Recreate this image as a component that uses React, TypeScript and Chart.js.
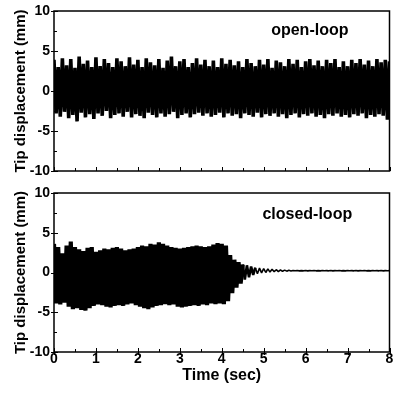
import React, { useEffect, useRef } from 'react';
import { Chart, registerables } from 'chart.js';

Chart.register(...registerables);

// ---- Data ----
const T_START = 0;
const T_END = 8; // seconds, samples evenly spaced over this span
const timeTicks = [0, 1, 2, 3, 4, 5, 6, 7, 8];
const dispTicks = [-10, -5, 0, 5, 10];

// open-loop tip displacement (mm), successive peaks / troughs
const openLoop = [
  3.9, -2.8, 3.0, -3.2, 4.1, -2.6, 3.2, -3.4, 4.0, -3.0,
  2.9, -3.8, 4.3, -2.7, 3.4, -3.3, 3.8, -2.9, 3.0, -3.5,
  4.2, -2.8, 3.1, -3.1, 4.0, -2.5, 3.5, -3.4, 3.0, -3.0,
  4.1, -2.8, 3.7, -3.2, 3.1, -2.6, 4.2, -3.3, 3.3, -2.9,
  3.9, -3.1, 3.0, -3.4, 4.1, -2.7, 3.6, -3.0, 3.2, -3.3,
  4.0, -2.8, 2.9, -3.2, 3.8, -2.9, 4.3, -2.6, 3.1, -3.4,
  3.7, -3.0, 4.0, -2.8, 3.0, -3.3, 3.5, -2.9, 4.1, -2.7,
  3.3, -3.1, 3.9, -2.8, 3.1, -3.2, 3.8, -3.0, 3.0, -2.7,
  4.1, -3.3, 3.4, -2.8, 3.9, -3.1, 3.2, -2.9, 3.7, -3.4,
  3.0, -2.8, 4.0, -3.0, 3.5, -3.2, 3.1, -2.7, 3.9, -3.3,
  3.3, -2.9, 4.0, -3.1, 2.9, -2.8, 3.8, -3.2, 3.6, -2.9,
  3.1, -3.4, 4.0, -3.0, 3.4, -2.8, 3.9, -3.3, 3.0, -2.9,
  3.7, -3.1, 4.0, -2.8, 3.2, -3.2, 3.8, -3.0, 3.1, -3.4,
  3.9, -2.9, 3.5, -3.1, 4.0, -2.8, 3.0, -3.2, 3.7, -3.0,
  3.1, -3.3, 3.9, -2.9, 3.5, -3.1, 4.0, -2.8, 3.3, -3.4,
  3.8, -3.0, 3.1, -3.2, 4.0, -2.9, 3.6, -3.1, 3.9, -3.6,
  3.7,
];

// closed-loop tip displacement (mm): control switched on near 4.1 s
const closedLoop = [
  3.6, -3.9, 3.2, -4.0, 2.4, -3.8, 3.4, -4.3, 3.9, -4.6,
  3.2, -4.5, 2.9, -4.7, 2.7, -4.8, 3.1, -4.5, 3.2, -4.2,
  2.6, -4.0, 2.8, -4.1, 3.0, -4.3, 2.9, -4.4, 3.1, -4.2,
  3.2, -4.1, 3.0, -4.2, 2.8, -4.0, 2.9, -3.9, 3.0, -4.1,
  3.2, -4.3, 3.4, -4.5, 3.3, -4.6, 3.6, -4.4, 3.5, -4.2,
  3.8, -4.1, 3.6, -4.0, 3.4, -4.1, 3.2, -4.0, 3.1, -4.3,
  3.0, -4.4, 3.1, -4.3, 3.2, -4.2, 3.3, -4.1, 3.4, -4.2,
  3.3, -4.0, 3.2, -4.1, 3.3, -3.9, 3.5, -4.0, 3.7, -3.9,
  3.6, -4.0,
  3.4, -3.6, 2.2, -2.6, 1.6, -1.9, 1.3, -1.4, 1.0, -0.9,
  0.9, -0.6, 0.75, -0.3, 0.6, -0.15, 0.55, -0.05, 0.5, 0.0,
  0.45, 0.05, 0.4, 0.1, 0.35, 0.12, 0.32, 0.15, 0.3, 0.17,
  0.28,
  0.2, 0.26, 0.21, 0.25, 0.2, 0.24, 0.21, 0.25,
  0.2, 0.24, 0.22, 0.25, 0.21, 0.24, 0.2, 0.25,
  0.22, 0.24, 0.21, 0.25, 0.2, 0.24, 0.22, 0.25,
  0.21, 0.24, 0.2, 0.25, 0.22, 0.24, 0.21, 0.25,
  0.2, 0.24, 0.22, 0.25, 0.21, 0.24, 0.2, 0.25,
  0.22, 0.24, 0.21, 0.25, 0.2, 0.24, 0.22, 0.23,
];

const FONT = '"Liberation Sans", Arial, Helvetica, sans-serif';

const framePlugin = {
  id: 'frameTicks',
  afterDatasetsDraw(chart: any, _args: any, opts: any) {
    const { ctx, chartArea: a, scales } = chart;
    const xs = scales.x;
    const ys = scales.y;
    ctx.save();
    ctx.strokeStyle = '#000';
    ctx.lineWidth = 1.5;
    ctx.strokeRect(a.left, a.top, a.right - a.left, a.bottom - a.top);
    ctx.lineWidth = 1;
    ctx.beginPath();
    // y ticks (major crossing, minor inward)
    for (let i = 0; i < dispTicks.length; i++) {
      const py = Math.round(ys.getPixelForValue(dispTicks[i])) + 0.5;
      ctx.moveTo(a.left - 3, py);
      ctx.lineTo(a.left + 4, py);
      if (i < dispTicks.length - 1) {
        const pm = Math.round(ys.getPixelForValue((dispTicks[i] + dispTicks[i + 1]) / 2)) + 0.5;
        ctx.moveTo(a.left, pm);
        ctx.lineTo(a.left + 3, pm);
      }
    }
    // x ticks
    for (let i = 0; i < timeTicks.length; i++) {
      const px = Math.round(xs.getPixelForValue(timeTicks[i])) + 0.5;
      ctx.moveTo(px, a.bottom + (opts.showX ? 3 : 0));
      ctx.lineTo(px, a.bottom - 4);
      if (i < timeTicks.length - 1) {
        const pm = Math.round(xs.getPixelForValue((timeTicks[i] + timeTicks[i + 1]) / 2)) + 0.5;
        ctx.moveTo(pm, a.bottom);
        ctx.lineTo(pm, a.bottom - 3);
      }
    }
    ctx.stroke();
    // panel note
    ctx.fillStyle = '#000';
    ctx.font = `bold 16px ${FONT}`;
    ctx.textAlign = 'center';
    ctx.textBaseline = 'alphabetic';
    ctx.fillText(opts.text, xs.getPixelForValue(opts.tx), ys.getPixelForValue(opts.ty));
    ctx.restore();
  },
};

type PanelProps = {
  values: number[];
  note: string;
  noteT: number;
  noteY: number;
  showX: boolean;
  lineWidth: number;
  thinAfter: number; // time after which the trace is drawn thin (small motion)
  width: number;
  height: number;
  padTop: number;
  padBottom: number;
};

function Panel(p: PanelProps) {
  const ref = useRef<HTMLCanvasElement | null>(null);
  useEffect(() => {
    if (!ref.current) return;
    const n = p.values.length;
    const pts = p.values.map((v, i) => ({ x: T_START + (i * (T_END - T_START)) / (n - 1), y: v }));
    const chart = new Chart(ref.current, {
      type: 'line',
      data: {
        datasets: [
          {
            data: pts,
            borderColor: '#000',
            borderWidth: p.lineWidth,
            borderJoinStyle: 'bevel',
            pointRadius: 0,
            tension: 0,
            fill: false,
            segment: {
              borderWidth: (c: any) => {
                const t = c.p0.parsed.x;
                if (t >= p.thinAfter + 0.3) return 1.6;
                if (t >= p.thinAfter) return 2.6;
                return p.lineWidth;
              },
            },
          },
        ],
      },
      options: {
        animation: false,
        responsive: false,
        maintainAspectRatio: false,
        devicePixelRatio: 1,
        events: [],
        layout: { padding: { top: p.padTop, bottom: p.padBottom, left: 0, right: 12.5 } },
        plugins: {
          legend: { display: false },
          tooltip: { enabled: false },
          frameTicks: { text: p.note, tx: p.noteT, ty: p.noteY, showX: p.showX },
        } as any,
        scales: {
          x: {
            type: 'linear',
            min: T_START,
            max: T_END,
            display: p.showX,
            grid: { display: false, drawTicks: false, tickLength: 0 },
            border: { display: false },
            afterBuildTicks: (s: any) => {
              s.ticks = timeTicks.map((v) => ({ value: v }));
            },
            afterFit: (s: any) => {
              if (p.showX) s.height = 41;
            },
            ticks: {
              color: '#000',
              padding: 0,
              maxRotation: 0,
              font: { family: FONT, size: 14, weight: 'bold', lineHeight: 1 },
            },
            title: {
              display: true,
              text: 'Time (sec)',
              color: '#000',
              padding: { top: 0, bottom: 8 },
              font: { family: FONT, size: 16, weight: 'bold', lineHeight: 1.2 },
            },
          },
          y: {
            type: 'linear',
            min: -10,
            max: 10,
            grid: { display: false, drawTicks: false, tickLength: 0 },
            border: { display: false },
            afterBuildTicks: (s: any) => {
              s.ticks = dispTicks.map((v) => ({ value: v }));
            },
            afterFit: (s: any) => {
              s.width = 54;
            },
            ticks: {
              color: '#000',
              padding: 4,
              font: { family: FONT, size: 14, weight: 'bold', lineHeight: 1 },
            },
            title: {
              display: true,
              text: 'Tip displacement (mm)',
              color: '#000',
              padding: { top: 12, bottom: 0 },
              font: { family: FONT, size: 15, weight: 'bold', lineHeight: 1.2 },
            },
          },
        },
      } as any,
      plugins: [framePlugin],
    });
    return () => chart.destroy();
  }, []);
  return (
    <canvas
      ref={ref}
      width={p.width}
      height={p.height}
      style={{ display: 'block', width: p.width, height: p.height }}
    />
  );
}

export default function App() {
  return (
    <div
      style={{
        position: 'fixed',
        left: 0,
        top: 0,
        width: 402,
        height: 393,
        background: '#fff',
        overflow: 'hidden',
      }}
    >
      <Panel
        values={openLoop}
        note="open-loop"
        noteT={6.1}
        noteY={7.05}
        showX={false}
        lineWidth={3.6}
        thinAfter={99}
        width={402}
        height={182}
        padTop={10}
        padBottom={8}
      />
      <Panel
        values={closedLoop}
        note="closed-loop"
        noteT={6.04}
        noteY={6.7}
        showX={true}
        lineWidth={4.2}
        thinAfter={4.5}
        width={402}
        height={211}
        padTop={7}
        padBottom={0}
      />
    </div>
  );
}
